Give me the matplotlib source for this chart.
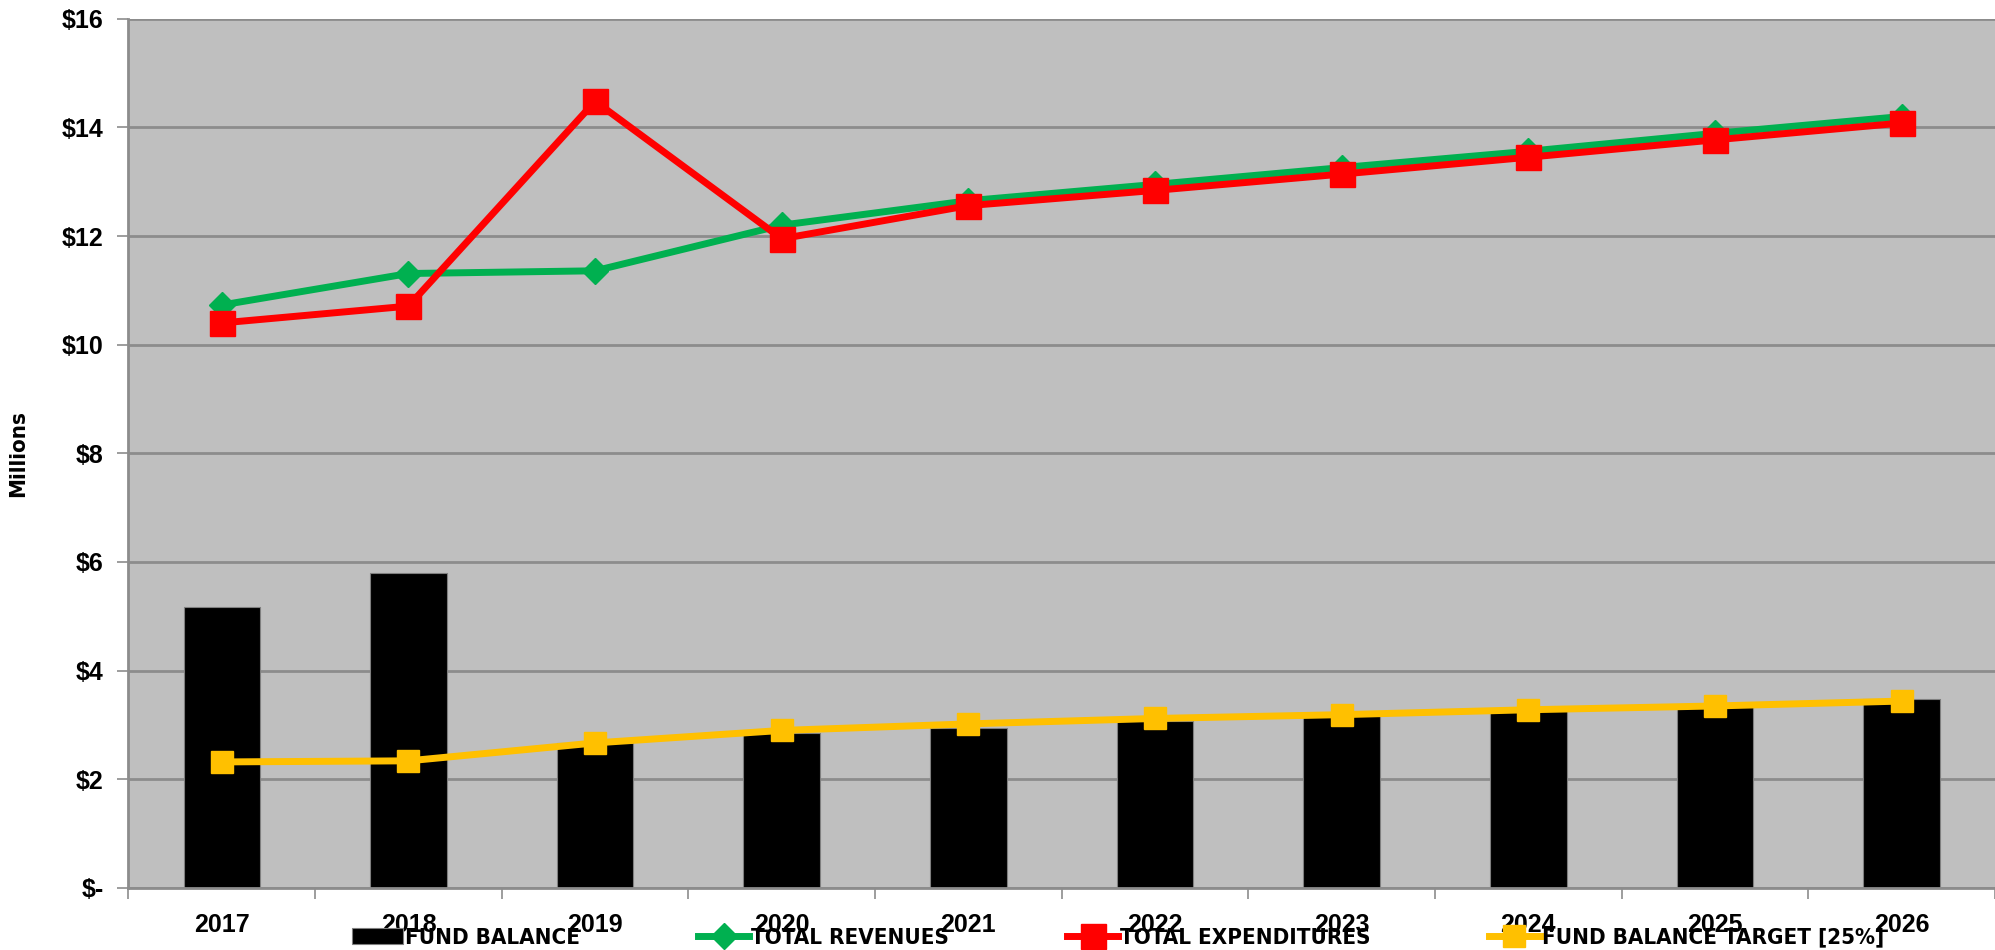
import matplotlib
matplotlib.use("Agg")
import matplotlib.pyplot as plt
import numpy as np

years = ["2017", "2018", "2019", "2020", "2021", "2022", "2023", "2024", "2025", "2026"]
fund_balance = [5.18, 5.79, 2.67, 2.86, 2.95, 3.07, 3.16, 3.26, 3.33, 3.47]
total_revenues = [10.73, 11.31, 11.36, 12.20, 12.65, 12.95, 13.26, 13.56, 13.89, 14.20]
total_expenditures = [10.40, 10.71, 14.48, 11.95, 12.56, 12.84, 13.14, 13.45, 13.77, 14.08]
fb_target = [2.32, 2.34, 2.67, 2.90, 3.02, 3.12, 3.19, 3.28, 3.35, 3.44]
y_ticks = [0, 2, 4, 6, 8, 10, 12, 14, 16]
y_labels = ["$-", "$2", "$4", "$6", "$8", "$10", "$12", "$14", "$16"]

plt.rcParams["font.family"] = ["Liberation Sans", "DejaVu Sans"]
plt.rcParams["font.weight"] = "bold"

fig = plt.figure(figsize=(19.95, 9.5), dpi=100)
ax = fig.add_axes([0.0644, 0.0653, 0.9356, 0.915])
ax.set_facecolor("#BFBFBF")

x = np.arange(len(years))
b = ax.bar(x, fund_balance, width=0.41, color="black", edgecolor="#7F7F7F", linewidth=0.8,
           label="FUND BALANCE", zorder=2)
l1, = ax.plot(x, total_revenues, color="#00B050", lw=5, marker="D", ms=13,
              label="TOTAL REVENUES", zorder=3)
l2, = ax.plot(x, total_expenditures, color="#FF0000", lw=5, marker="s", ms=18,
              label="TOTAL EXPENDITURES", zorder=4)
l3, = ax.plot(x, fb_target, color="#FFC000", lw=5, marker="s", ms=16,
              label="FUND BALANCE TARGET [25%]", zorder=4)

ax.set_xlim(-0.5, len(years) - 0.5)
ax.set_ylim(0, 16)
ax.set_yticks(y_ticks)
ax.set_yticklabels(y_labels, fontsize=18, fontweight="bold")
ax.yaxis.grid(True, color="#8C8C8C", lw=2, zorder=0)
ax.set_axisbelow(True)

ax.set_xticks(x)
ax.set_xticklabels(years, fontsize=18, fontweight="bold")
ax.set_xticks(np.arange(-0.5, len(years)), minor=True)
ax.tick_params(axis="x", which="major", length=0, pad=18)
ax.tick_params(axis="x", which="minor", length=8, width=1.2, color="#8C8C8C")
ax.tick_params(axis="y", length=8, width=1.2, color="#8C8C8C", pad=10)

for side in ["top", "right"]:
    ax.spines[side].set_visible(False)
for side in ["left", "bottom"]:
    ax.spines[side].set_color("#8C8C8C")
    ax.spines[side].set_linewidth(2)

ax.set_ylabel("Millions", family=["DejaVu Sans"], fontstretch="condensed",
              fontweight="bold", fontsize=16)
ax.yaxis.set_label_coords(-0.054, 0.5)

leg = fig.legend([b, l1, l2, l3],
                 ["FUND BALANCE", "TOTAL REVENUES", "TOTAL EXPENDITURES", "FUND BALANCE TARGET [25%]"],
                 loc="center left", bbox_to_anchor=(0.172, 0.013), ncol=4, frameon=False,
                 prop={"family": ["DejaVu Sans"], "stretch": "condensed", "weight": "bold", "size": 16},
                 handlelength=2.3, handletextpad=0.1, columnspacing=5.3,
                 borderaxespad=0)

fig.savefig("out.png", dpi=100)
